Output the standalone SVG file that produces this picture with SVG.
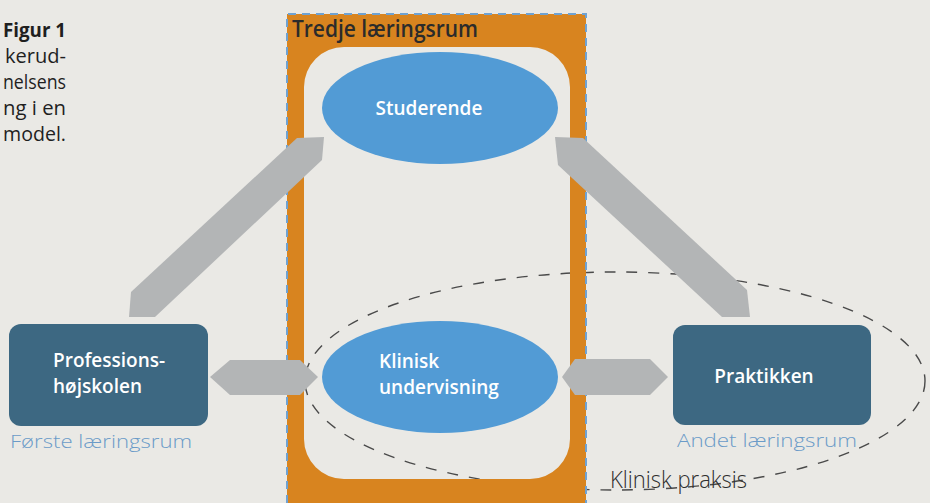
<svg xmlns="http://www.w3.org/2000/svg" width="930" height="503" viewBox="0 0 930 503">
<style>
.cap{font-family:"Open Sans","Noto Sans",sans-serif;font-size:19.5px;fill:#1f1f1f;text-anchor:end}
.node{font-family:"Open Sans","Noto Sans",sans-serif;font-size:19px;font-weight:600;fill:#ffffff}
.room{font-family:"Open Sans","Noto Sans",sans-serif;font-size:19px;font-weight:300;fill:#6b9bc8}
.box{fill:#3d6882}
.ell{fill:#529bd5}
.arrow{fill:#b3b5b6}
</style>
<rect x="0" y="0" width="930" height="503" fill="#eae9e5"/>

<g id="caption">
<text class="cap" x="66" y="37" font-weight="700" textLength="63" lengthAdjust="spacingAndGlyphs">Figur 1</text>
<text class="cap" x="66" y="63" textLength="61" lengthAdjust="spacingAndGlyphs">kerud-</text>
<text class="cap" x="66" y="89" textLength="63" lengthAdjust="spacingAndGlyphs">nelsens</text>
<text class="cap" x="66" y="115" textLength="63" lengthAdjust="spacingAndGlyphs">ng i en</text>
<text class="cap" x="66" y="141" textLength="63" lengthAdjust="spacingAndGlyphs">model.</text>
</g>

<g id="klinisk-praksis">
<ellipse cx="615" cy="381" rx="310" ry="109" fill="none" stroke="#4a4a4a" stroke-width="1.4" stroke-dasharray="11 11"/>
<text x="610" y="488" font-family="Open Sans, Noto Sans, sans-serif" font-size="24" font-weight="300" fill="#2e2e2e" textLength="137" lengthAdjust="spacingAndGlyphs">Klinisk praksis</text>
</g>

<g id="tredje-laeringsrum">
<path d="M287 14 H586 V503 H287 Z M344 47 H530 A40 40 0 0 1 570 87 V439 A40 40 0 0 1 530 479 H344 A40 40 0 0 1 304 439 V87 A40 40 0 0 1 344 47 Z" fill="#d8841f" fill-rule="evenodd"/>
<path d="M287 503 V14 H586 V503" fill="none" stroke="#6fa2d2" stroke-width="2" stroke-dasharray="8 6"/>
<text x="292" y="37" font-family="Open Sans, Noto Sans, sans-serif" font-size="23" font-weight="600" fill="#2b2b2b" textLength="186" lengthAdjust="spacingAndGlyphs">Tredje læringsrum</text>
</g>

<g id="connectors">
<polygon class="arrow" points="297,138 324,137 322,160 155,317 129,317 131,292"/>
<polygon class="arrow" points="555,137 583,138 747,290 750,317 722,317 558,165"/>
<polygon class="arrow" points="210,377 230,360 300,360 318,377 300,395 230,395"/>
<polygon class="arrow" points="562,377 575,359 650,359 668,377 650,395 575,395"/>
</g>

<g id="studerende">
<ellipse class="ell" cx="440" cy="108" rx="118" ry="56"/>
<text class="node" x="429" y="115" text-anchor="middle">Studerende</text>
</g>

<g id="klinisk-undervisning">
<ellipse class="ell" cx="440" cy="377" rx="118" ry="56"/>
<text class="node" x="379" y="368">Klinisk</text>
<text class="node" x="379" y="394">undervisning</text>
</g>

<g id="professionshojskolen">
<rect class="box" x="9" y="324" width="199" height="102" rx="12"/>
<text class="node" x="53" y="367">Professions-</text>
<text class="node" x="53" y="393">højskolen</text>
<text class="room" x="10" y="448" textLength="182" lengthAdjust="spacingAndGlyphs">Første læringsrum</text>
</g>

<g id="praktikken">
<rect class="box" x="673" y="325" width="198" height="100" rx="12"/>
<text class="node" x="764" y="383" text-anchor="middle">Praktikken</text>
<text class="room" x="677" y="447" textLength="180" lengthAdjust="spacingAndGlyphs">Andet læringsrum</text>
</g>
</svg>
